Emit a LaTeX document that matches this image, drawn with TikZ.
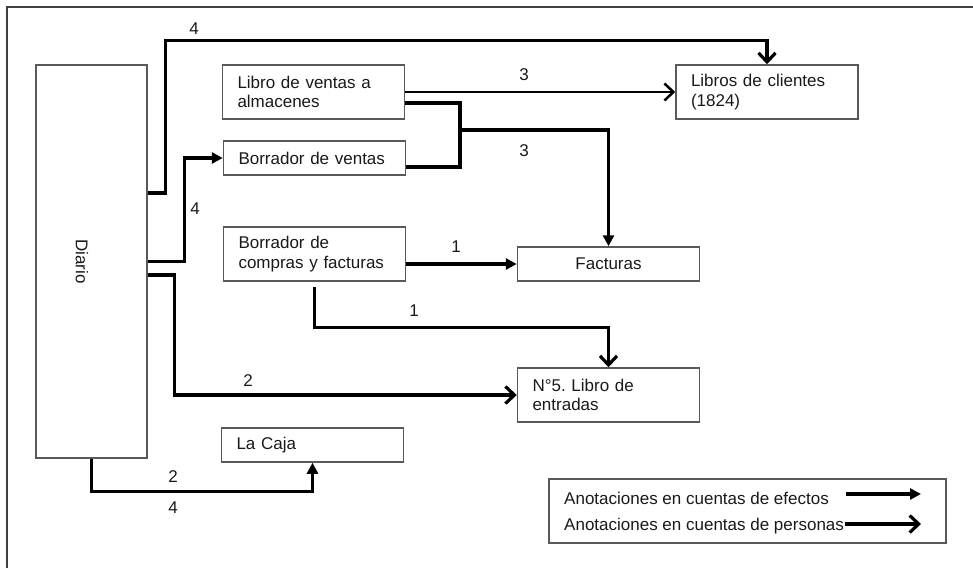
\documentclass[tikz,border=0pt]{standalone}
\usepackage{fontspec}
\setmainfont{Liberation Sans}
\usetikzlibrary{arrows.meta, positioning, calc}
\tikzset{
  txt/.style={font=\fontsize{17}{19.5}\selectfont\frenchspacing, text=black!90},
  box/.style={rectangle, draw=black!65, line width=1.5pt, txt, inner xsep=15pt, inner ysep=0pt,
              text width=152pt, align=left},
  onebox/.style={box, minimum height=34pt},
  twobox/.style={box, minimum height=54pt},
  diariobox/.style={rectangle, draw=black!65, line width=1.5pt, txt, minimum width=111pt, minimum height=393pt},
  legendbox/.style={rectangle, draw=black!65, line width=1.5pt, minimum width=397pt, minimum height=64pt},
  num/.style={txt, inner sep=1pt},
  legtext/.style={txt, inner sep=0pt, anchor=west},
  frame/.style={draw=black!75, line width=1.6pt},
  efecto/.style={-{Triangle[length=11pt,width=11pt]}, line width=3.2pt, line join=miter},
  persona/.style={-{Straight Barb[length=9pt,width=17pt]}, line width=3.2pt, line join=miter},
  plain/.style={line width=3.2pt, line join=miter},
}
\begin{document}
\begin{tikzpicture}[x=1pt, y=-1pt]
  \useasboundingbox (0,0) rectangle (973,568);
  % frame, only top and left edges show
  \draw[frame] (7,568) -- (7,7) -- (973,7);

  % books
  \node[diariobox] (diario) at (91.5,261.5) {\hspace*{-19pt}\rotatebox{-90}{Diario}};
  \node[twobox] (ventas) at (313.5,92) {Libro de ventas a\\almacenes};
  \node[onebox] (bventas) at (314.5,158) {Borrador de ventas};
  \node[twobox] (compras) at (314.5,254) {Borrador de\\compras y facturas};
  \node[twobox] (clientes) at (767,92) {Libros de clientes\\(1824)};
  \node[onebox, align=center] (facturas) at (608.5,264) {Facturas};
  \node[twobox] (entradas) at (608.5,395) {N°5. Libro de\\entradas};
  \node[onebox] (caja) at (312.5,445) {La Caja};

  % connectors from Diario
  \draw[persona] ([yshift=68.5pt]diario.east) -- ++(18pt,0) |- ($(clientes.north)+(0,24pt)$) -- (clientes.north);
  \draw[efecto] (diario.east) -- ++(37pt,0) |- (bventas.west);
  \draw[persona] ([yshift=-13.5pt]diario.east) -- ++(27pt,0) |- (entradas.west);
  \draw[efecto] (diario.south) |- ($(caja.south)+(0,-29pt)$) -- (caja.south);

  % connectors from the sales books
  \draw[persona, line width=2.5pt] (ventas.east) -- (clientes.west);
  \coordinate (junta) at (460,130);
  \draw[plain] ([yshift=-11pt]ventas.east) -| (junta) |- ([yshift=-9pt]bventas.east);
  \draw[efecto] (junta) -| (facturas.north);

  % connectors from compras
  \draw[efecto] ([yshift=-10pt]compras.east) -- (facturas.west);
  \draw[persona] ([yshift=-5pt]compras.south) |- ($(entradas.north)+(0,40pt)$) -- (entradas.north);

  % numbers
  \node[num] (n4a) at (194,29) {4};
  \node[num] (n4b) at (195,209) {4};
  \node[num] (n2a) at (248,381) {2};
  \node[num] (n3a) at (524,75) {3};
  \node[num] (n3b) at (524,151) {3};
  \node[num] (n1a) at (456,247) {1};
  \node[num] (n1b) at (414,311) {1};
  \node[num] (n2b) at (173,477) {2};
  \node[num] (n4c) at (173,508) {4};

  % legend
  \node[legendbox] (leyenda) at (747.5,511) {};
  \node[legtext] (lefectos) at (564,498) {Anotaciones en cuentas de efectos};
  \node[legtext] (lpersonas) at (564,526) {Anotaciones en cuentas de personas};
  \coordinate (ea) at (846,494);
  \coordinate (eb) at (921,494);
  \coordinate (pa) at (845,524);
  \coordinate (pb) at (921,524);
  \draw[efecto] (ea) -- (eb);
  \draw[persona] (pa) -- (pb);
\end{tikzpicture}
\end{document}
